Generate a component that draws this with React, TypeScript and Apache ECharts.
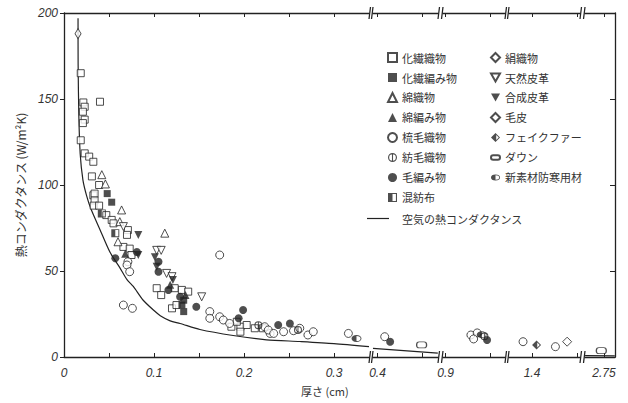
import React, { useEffect, useRef } from 'react';
import * as echarts from 'echarts';

// ---- data: [thickness (cm), thermal conductance (W/m²K)] ----
const kasenOrimono = [
  [0.0186, 165], [0.04, 148.4], [0.0215, 148], [0.023, 145.5], [0.021, 142.6], [0.023, 138], [0.021, 136],
  [0.0186, 126], [0.023, 118.4], [0.028, 116.5], [0.0326, 113.5], [0.031, 105], [0.039, 100], [0.0326, 94],
  [0.034, 95], [0.034, 91], [0.033, 88], [0.039, 88], [0.047, 82.5], [0.053, 79.7], [0.055, 77.7],
  [0.071, 73.8], [0.07, 71], [0.066, 64], [0.073, 63], [0.075, 59.3], [0.103, 40], [0.108, 36],
  [0.123, 40], [0.131, 39], [0.138, 38], [0.12, 28.3], [0.125, 30.2], [0.186, 17.6], [0.196, 17.6],
  [0.203, 18.6], [0.196, 14.7], [0.212, 16.7], [0.221, 16.7], [0.192, 20.5],
];
const kasenAmimono = [[0.048, 95], [0.053, 90], [0.133, 33], [0.131, 30.2], [0.133, 26.4]];
const menOrimono = [[0.042, 106], [0.046, 100.6], [0.064, 85.5], [0.062, 78.7], [0.06, 67], [0.112, 72]];
const menAmimono = [[0.068, 60], [0.135, 36], [0.118, 42]];
const somouOrimono = [
  [0.071, 55.4], [0.07, 53.5], [0.073, 49.6], [0.066, 30.2], [0.076, 28.3], [0.173, 59.3], [0.162, 26.4],
  [0.162, 22.5], [0.173, 23.4], [0.177, 21.5], [0.184, 19.5], [0.223, 17.6], [0.229, 13.7], [0.227, 15.7],
  [0.233, 13.7], [0.244, 14.7], [0.255, 15.3], [0.262, 16.7], [0.271, 12.8], [0.277, 14.7], [0.316, 13.7],
  [0.408, 11.8], [0.928, 12.8], [0.935, 14], [0.931, 10.5], [1.39, 8.9], [1.426, 6.0],
];
const boumouOrimono = [[0.216, 18.5], [0.26, 15.7], [0.943, 12]];
const keAmimono = [
  [0.057, 57.4], [0.081, 61], [0.105, 55.4], [0.105, 49.6], [0.116, 39], [0.129, 35], [0.147, 29.2],
  [0.199, 27.3], [0.194, 22.5], [0.238, 18.6], [0.251, 19.5], [0.414, 8.9], [0.946, 9.9],
];
const konbouFu = [[0.057, 72], [0.042, 83.5]];
const kinuOrimono = [[0.0156, 188]];
const tennenHikaku = [[0.066, 75.8], [0.103, 62], [0.108, 62], [0.114, 48.6], [0.12, 46.7], [0.153, 35]];
const gouseiHikaku = [[0.0826, 71], [0.0826, 59.3], [0.101, 58], [0.103, 52.5], [0.121, 44.8]];
const kegawa = [[1.439, 8.9]];
const fakeFur = [[1.405, 7.0]];
const down = [[0.449, 7.0], [2.747, 3.7]];
const shinSozai = [[0.325, 10.8], [0.94, 13]];

const airConductance = [
  [0.0156, 197], [0.0157, 170], [0.0165, 140], [0.018, 118], [0.021, 103], [0.025, 94], [0.03, 86],
  [0.04, 74], [0.051, 61], [0.062, 52], [0.07, 45], [0.077, 41], [0.088, 33], [0.1, 27], [0.107, 24],
  [0.118, 21], [0.129, 19.5], [0.151, 16], [0.188, 12.5], [0.225, 10], [0.262, 9], [0.3, 7.8], [0.3389, 6],
  [0.395, 5], [0.467, 2.2], [0.897, 3], [0.966, 2.5], [1.374, 1.6], [1.453, 1.2], [2.729, 0.8], [2.762, 0.6],
];

// broken x-axis segments
const SEG_MIN = [0, 0.395, 0.897, 1.3744, 2.7289];
const SEG_MAX = [0.3389, 0.4672, 0.9659, 1.4533, 2.7622];
const SEG_LABELS = [[0, 0.1, 0.2, 0.3], [0.4], [0.9], [1.4], [2.75]];
const SEG_TICKS = [[0.05, 0.1, 0.15, 0.2, 0.25, 0.3], [0.4, 0.45], [0.9, 0.95], [1.4, 1.45], [2.75]];
const Y_TICKS = [0, 50, 100, 150, 200];

const SEG_LEFT = [64, 373, 443, 509, 585];
const SEG_WIDTH = [305, 65, 62, 71, 30];
const GRID_TOP = 13;
const GRID_H = 344;

const INK = '#222';
const TXT = '#333';
const JP = '"Noto Sans CJK JP", "Noto Sans", sans-serif';
const NUM = '"Liberation Sans", "DejaVu Sans", sans-serif';

const HOLLOW = { color: '#fff', borderColor: INK, borderWidth: 1 };
const FILLED = { color: INK, borderWidth: 0 };

const P_CIRCLE_BAR = 'path://M5 0A5 5 0 1 1 5 10A5 5 0 1 1 5 0ZM5 1.3A3.7 3.7 0 1 0 5 8.7A3.7 3.7 0 1 0 5 1.3ZM4.4 1H5.6V9H4.4Z';
const P_HALF_SQUARE = 'path://M0 0H10V10H0ZM5 1.2V8.8H8.8V1.2Z';
const P_TRI_DOWN = 'path://M0 0H10L5 9Z';
const P_HALF_DIAMOND = 'path://M5 0L10 5L5 10L0 5ZM5.8 2.2V7.8L8.6 5Z';
const P_PILL = 'path://M3 0H9A3 3 0 0 1 9 6H3A3 3 0 0 1 3 0Z';
const P_HALF_OVAL = 'path://M6 0A6 4 0 1 1 6 8A6 4 0 1 1 6 0ZM6 1.1V6.9A4.9 2.9 0 0 0 6 1.1Z';

const categories = [
  { name: '化繊織物', data: kasenOrimono, symbol: 'rect', size: 7, style: HOLLOW },
  { name: '化繊編み物', data: kasenAmimono, symbol: 'rect', size: 7, style: FILLED },
  { name: '綿織物', data: menOrimono, symbol: 'triangle', size: 8, style: HOLLOW },
  { name: '綿編み物', data: menAmimono, symbol: 'triangle', size: 8, style: FILLED },
  { name: '梳毛織物', data: somouOrimono, symbol: 'circle', size: 8, style: HOLLOW },
  { name: '紡毛織物', data: boumouOrimono, symbol: P_CIRCLE_BAR, size: 8, style: FILLED },
  { name: '毛編み物', data: keAmimono, symbol: 'circle', size: 8, style: FILLED },
  { name: '混紡布', data: konbouFu, symbol: P_HALF_SQUARE, size: 8, style: FILLED },
  { name: '絹織物', data: kinuOrimono, symbol: 'diamond', size: [6, 10], style: HOLLOW },
  { name: '天然皮革', data: tennenHikaku, symbol: P_TRI_DOWN, size: 8, style: HOLLOW },
  { name: '合成皮革', data: gouseiHikaku, symbol: P_TRI_DOWN, size: 8, style: FILLED },
  { name: '毛皮', data: kegawa, symbol: 'diamond', size: 9, style: HOLLOW },
  { name: 'フェイクファー', data: fakeFur, symbol: P_HALF_DIAMOND, size: 9, style: FILLED },
  { name: 'ダウン', data: down, symbol: P_PILL, size: [10, 6], style: HOLLOW },
  { name: '新素材防寒用材', data: shinSozai, symbol: P_HALF_OVAL, size: [10, 7], style: FILLED },
];
const AIR_NAME = '空気の熱コンダクタンス';

function segOf(x: number) {
  for (let i = 0; i < SEG_MIN.length; i++) {
    if (x >= SEG_MIN[i] - 1e-9 && x <= SEG_MAX[i] + 1e-9) return i;
  }
  return -1;
}

function fmt(v: number) {
  return String(Math.round(v * 1000) / 1000);
}

function buildOption() {
  const nSeg = SEG_MIN.length;
  const grid = SEG_LEFT.map((l, i) => ({
    left: l, width: SEG_WIDTH[i], top: GRID_TOP, height: GRID_H, outerBoundsMode: 'none',
  }));
  const xAxis: any[] = [];
  for (let i = 0; i < nSeg; i++) {
    xAxis.push({
      type: 'value', gridIndex: i, position: 'bottom', min: SEG_MIN[i], max: SEG_MAX[i],
      axisLine: { show: true, onZero: false, lineStyle: { color: INK, width: 1.3 } },
      axisTick: { show: true, inside: true, length: 4, customValues: SEG_TICKS[i], lineStyle: { color: INK } },
      axisLabel: {
        show: true, customValues: SEG_LABELS[i], formatter: (v: number) => fmt(v), margin: 10,
        fontSize: 12, fontStyle: 'italic', color: TXT, fontFamily: NUM,
      },
      splitLine: { show: false },
    });
  }
  for (let i = 0; i < nSeg; i++) {
    xAxis.push({
      type: 'value', gridIndex: i, position: 'top', min: SEG_MIN[i], max: SEG_MAX[i],
      axisLine: { show: true, onZero: false, lineStyle: { color: INK, width: 1.3 } },
      axisTick: { show: true, inside: true, length: 4, customValues: SEG_TICKS[i], lineStyle: { color: INK } },
      axisLabel: { show: false },
      splitLine: { show: false },
    });
  }
  const yAxis: any[] = [];
  for (let i = 0; i < nSeg; i++) {
    const isLeft = i === 0;
    const isRight = i === nSeg - 1;
    yAxis.push({
      type: 'value', gridIndex: i, min: 0, max: 200, interval: 50,
      show: isLeft || isRight, position: isRight ? 'right' : 'left',
      axisLine: { show: true, lineStyle: { color: INK, width: 1.3 } },
      axisTick: { show: true, inside: !isLeft, length: isLeft ? 4 : 5, customValues: Y_TICKS, lineStyle: { color: INK } },
      axisLabel: {
        show: isLeft, margin: 6, fontSize: 12, fontStyle: 'italic', color: TXT, fontFamily: NUM,
      },
      splitLine: { show: false },
      name: isLeft ? '熱コンダクタンス (W/m²K)' : '',
      nameLocation: 'middle', nameRotate: 90, nameGap: 38,
      nameTextStyle: { fontSize: 12, color: TXT, fontFamily: JP },
    });
  }

  const series: any[] = [];
  for (let s = 0; s < nSeg; s++) {
    const pts = airConductance.filter((p) => segOf(p[0]) === s);
    if (pts.length) {
      series.push({
        type: 'line', name: AIR_NAME, xAxisIndex: s, yAxisIndex: s, data: pts,
        symbol: 'none', smooth: 0.25, z: 1,
        lineStyle: { color: INK, width: 1.2 }, itemStyle: { color: INK },
      });
    }
  }
  categories.forEach((c) => {
    for (let s = 0; s < nSeg; s++) {
      const pts = c.data.filter((p) => segOf(p[0]) === s);
      if (!pts.length) continue;
      series.push({
        type: 'scatter', name: c.name, xAxisIndex: s, yAxisIndex: s, data: pts,
        symbol: c.symbol, symbolSize: c.size, itemStyle: c.style, z: 3,
      });
    }
  });

  const legendBase = {
    orient: 'vertical', itemWidth: 9, itemHeight: 9, itemGap: 9, selectedMode: false,
    textStyle: { fontSize: 11, color: TXT, fontFamily: JP },
  };
  const legend = [
    { ...legendBase, left: 382, top: 47, data: categories.slice(0, 8).map((c) => c.name) },
    { ...legendBase, left: 485, top: 47, data: categories.slice(8).map((c) => c.name) },
    {
      ...legendBase, left: 362, top: 208, itemWidth: 22, itemHeight: 1.2,
      data: [{ name: AIR_NAME, icon: 'rect' }],
      textStyle: { fontSize: 11, color: TXT, fontFamily: JP, padding: [0, 0, 0, 8] },
    },
  ];

  const graphic: any[] = [];
  for (let k = 0; k < nSeg - 1; k++) {
    const xEnd = SEG_LEFT[k] + SEG_WIDTH[k];
    const xStart = SEG_LEFT[k + 1];
    [GRID_TOP, GRID_TOP + GRID_H].forEach((y) => {
      graphic.push({ type: 'line', shape: { x1: xEnd, y1: y + 6, x2: xEnd + 1.5, y2: y - 6 }, style: { stroke: INK, lineWidth: 1.2 } });
      graphic.push({ type: 'line', shape: { x1: xStart - 1.5, y1: y + 6, x2: xStart, y2: y - 6 }, style: { stroke: INK, lineWidth: 1.2 } });
    });
  }
  graphic.push({
    type: 'text', left: 301, top: 385,
    style: { text: '厚さ (cm)', fontSize: 11, fill: TXT, fontFamily: JP },
  });

  return {
    animation: false,
    backgroundColor: '#fff',
    grid, xAxis, yAxis, series, legend, graphic,
  };
}

export default function App() {
  const ref = useRef<HTMLDivElement>(null);
  useEffect(() => {
    if (!ref.current) return;
    const chart = echarts.init(ref.current, null, { renderer: 'svg' });
    chart.setOption(buildOption() as any);
    return () => chart.dispose();
  }, []);
  return (
    <div
      ref={ref}
      style={{ position: 'fixed', left: 0, top: 0, width: 628, height: 403, background: '#fff' }}
    />
  );
}
